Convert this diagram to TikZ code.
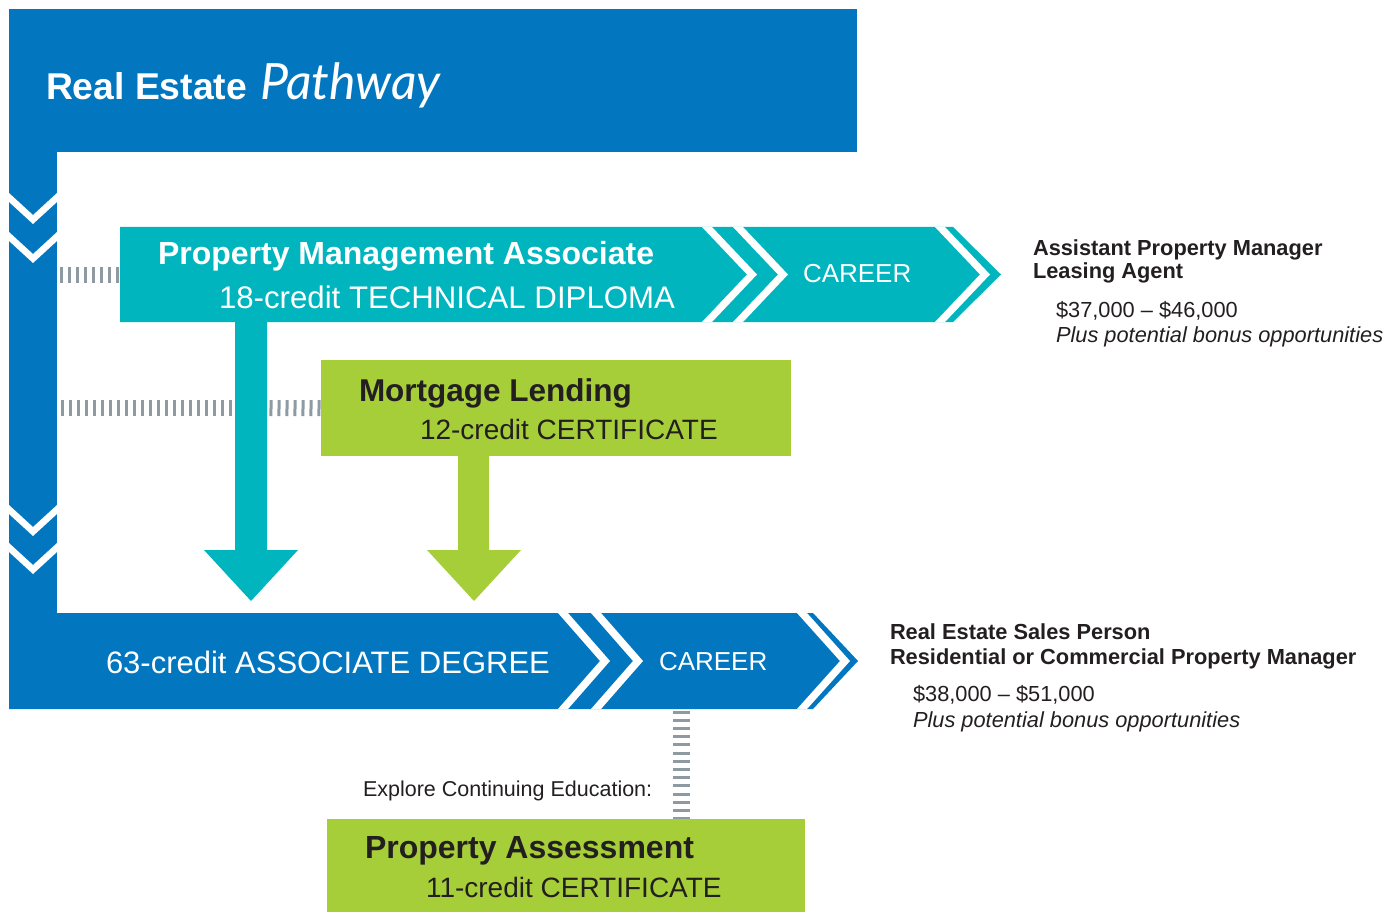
\documentclass[tikz,border=0pt]{standalone}
\usepackage{fontspec}
\setmainfont{Liberation Sans}
\newfontfamily\pathfont{Lato}
\definecolor{cblue}{RGB}{2,119,192}
\definecolor{cteal}{RGB}{0,181,189}
\definecolor{cgreen}{RGB}{166,206,57}
\definecolor{cdark}{RGB}{35,31,32}
\definecolor{ctick}{RGB}{142,154,161}
\newcommand{\fs}[1]{\fontsize{#1}{#1}\selectfont}
\newcommand{\chevstripe}[5]{\fill[white] (#1,#2) -- (#1+#5,#2) -- (#1+#5+#4,{(#2+#3)/2}) -- (#1+#5,#3) -- (#1,#3) -- (#1+#4,{(#2+#3)/2}) -- cycle;}
\tikzset{
  txt/.style={anchor=base west, inner sep=0pt, outer sep=0pt},
  wtxt/.style={txt, text=white},
  dtxt/.style={txt, text=cdark},
  tickline/.style={draw=ctick, line width=16pt, dash pattern=on 3pt off 5pt},
  tickvert/.style={draw=ctick, line width=17pt, dash pattern=on 3pt off 5.2pt},
}
\begin{document}
\begin{tikzpicture}[x=1pt,y=-1pt]
\useasboundingbox (0,0) rectangle (1390,912);
% banner and left bar
\fill[cblue] (9,9) rectangle (857,152);
\fill[cblue] (9,150) rectangle (57,615);
\foreach \y in {193,232,505,543}
  \fill[white] (9,\y) -- (33,\y+22) -- (57,\y) -- (57,\y+9) -- (33,\y+31) -- (9,\y+9) -- cycle;
% bottom bar (associate degree)
\fill[cblue] (9,613) -- (813,613) -- (858,661) -- (813,709) -- (9,709) -- cycle;
\chevstripe{558}{613}{709}{42}{10}
\chevstripe{591}{613}{709}{42}{10}
\chevstripe{797}{613}{709}{43}{10}
% teal bar (technical diploma)
\fill[cteal] (120,227) -- (953,227) -- (1001,274.5) -- (953,322) -- (120,322) -- cycle;
\chevstripe{702}{227}{322}{45}{10}
\chevstripe{733}{227}{322}{45}{10}
\chevstripe{935}{227}{322}{45}{10}
% teal arrow
\fill[cteal] (235,321) -- (267,321) -- (267,550) -- (298,550) -- (251,601) -- (204,550) -- (235,550) -- cycle;
% green mortgage box
\node[fill=cgreen, inner sep=0pt, minimum width=470pt, minimum height=96pt, anchor=north west] (ml) at (321,360) {};
\fill[cgreen] (458,455) -- (489,455) -- (489,550) -- (521,550) -- (474,601) -- (427,550) -- (458,550) -- cycle;
% property assessment box
\node[fill=cgreen, inner sep=0pt, minimum width=478pt, minimum height=93pt, anchor=north west] (pa) at (327,819) {};
% tick connectors
\coordinate (lb1) at (59.5,275);
\coordinate (td) at (120,275);
\coordinate (lb2) at (60.5,408);
\coordinate (ta1) at (236,408);
\coordinate (ta2) at (269.5,408);
\draw[tickline] (lb1) -- (td);
\draw[tickline] (lb2) -- (ta1);
\draw[tickline] (ta2) -- (ml.west);
\coordinate (dg) at (681,710.5);
\draw[tickvert] (dg) -- (pa.north -| dg);
% texts
\node[wtxt] (t1) at (46,100) {\fs{37.3}\bfseries Real Estate};
\node[wtxt] (t2) at (260,100) {\fs{50}\pathfont\itshape Pathway};
\node[wtxt] (pm1) at (158,265) {\fs{32}\bfseries Property Management Associate};
\node[wtxt] (pm2) at (219,308) {\fs{31.2}18-credit TECHNICAL DIPLOMA};
\node[wtxt] (c1) at (803,283) {\fs{26}CAREER};
\node[dtxt] (ml1) at (359,401) {\fs{31.5}\bfseries Mortgage Lending};
\node[dtxt] (ml2) at (420,439) {\fs{28}12-credit CERTIFICATE};
\node[wtxt] (ad) at (106,673) {\fs{31}63-credit ASSOCIATE DEGREE};
\node[wtxt] (c2) at (659,670) {\fs{26}CAREER};
\node[dtxt] (ex) at (363,796) {\fs{21.5}Explore Continuing Education:};
\node[dtxt] (pa1) at (365,858) {\fs{32}\bfseries Property Assessment};
\node[dtxt] (pa2) at (426,897) {\fs{28}11-credit CERTIFICATE};
% career outcomes
\node[dtxt] (r1) at (1033,255) {\fs{21.8}\bfseries Assistant Property Manager};
\node[dtxt] (r2) at (1033,279) {\fs{21.8}\bfseries Leasing Agent};
\node[dtxt] (r3) at (1056,317) {\fs{21.8}\$37,000 \textendash{} \$46,000};
\node[dtxt] (r4) at (1056,342) {\fs{21.8}\itshape Plus potential bonus opportunities};
\node[dtxt] (s1) at (890,639) {\fs{21.8}\bfseries Real Estate Sales Person};
\node[dtxt] (s2) at (890,664) {\fs{21.8}\bfseries Residential or Commercial Property Manager};
\node[dtxt] (s3) at (913,701) {\fs{21.8}\$38,000 \textendash{} \$51,000};
\node[dtxt] (s4) at (913,727) {\fs{21.8}\itshape Plus potential bonus opportunities};
\end{tikzpicture}
\end{document}
